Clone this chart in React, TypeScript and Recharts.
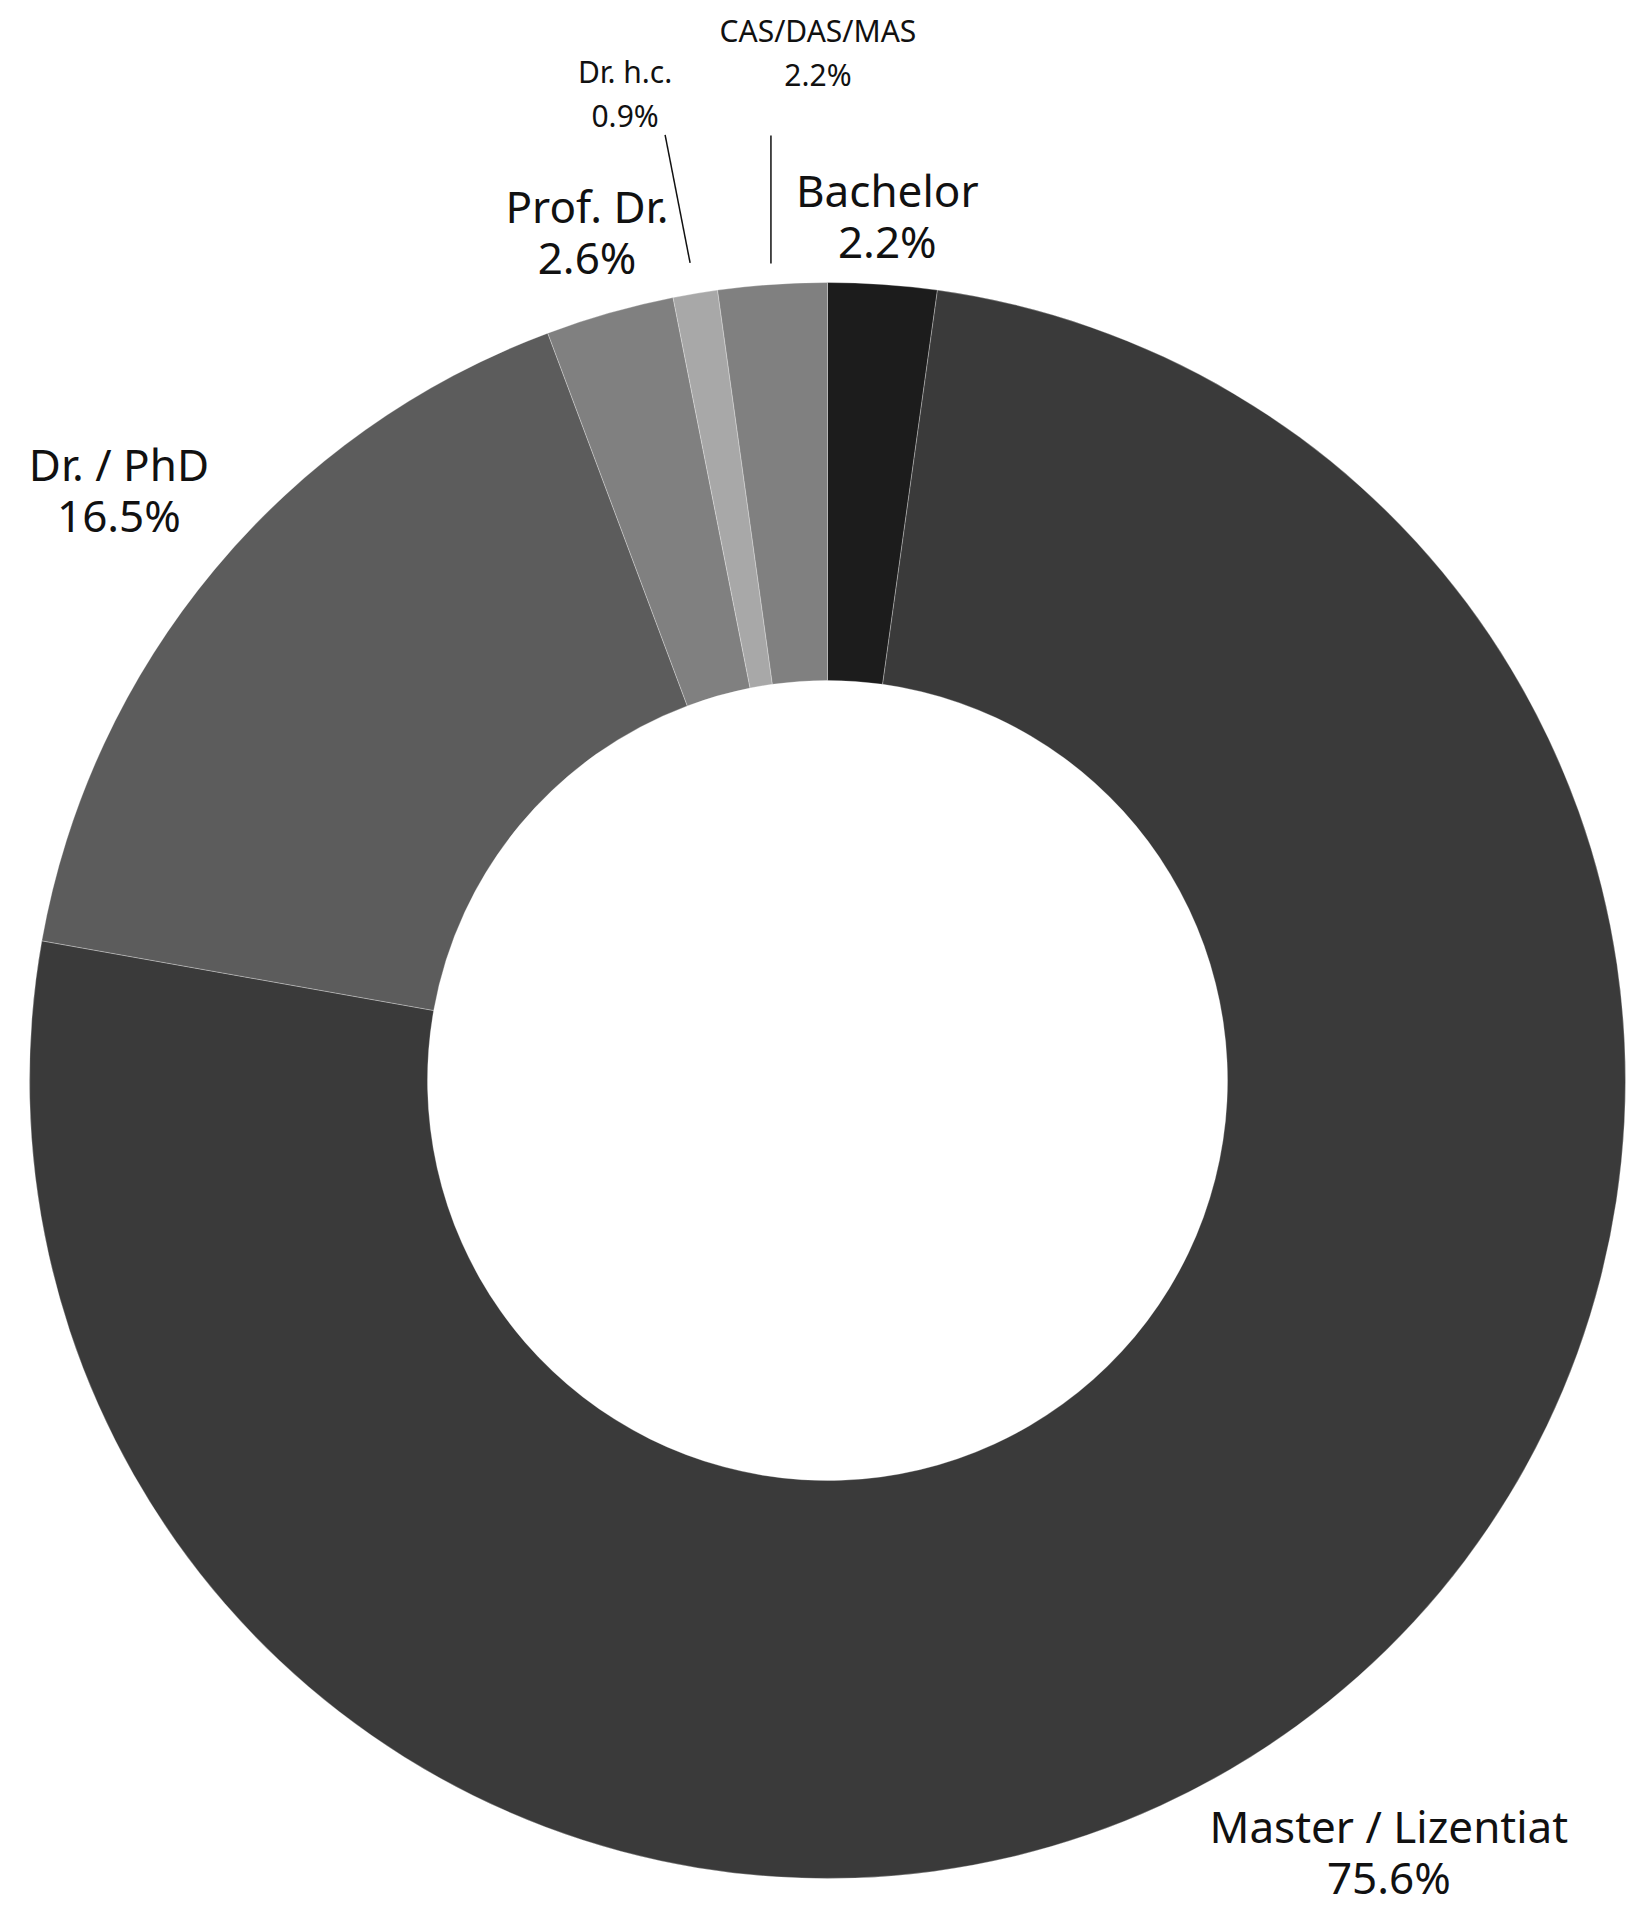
import React from "react";
import { PieChart, Pie, Cell } from "recharts";

const categories = ["Bachelor", "Master / Lizentiat", "Dr. / PhD", "Prof. Dr.", "Dr. h.c.", "CAS/DAS/MAS"];
const shares = [2.2, 75.6, 16.5, 2.6, 0.9, 2.2];
const colors = ["#1c1c1c", "#3a3a3a", "#5c5c5c", "#808080", "#a8a8a8", "#808080"];

const data = categories.map((name, i) => ({ name, value: shares[i] }));

// label layout (positions only, not data)
type Layout =
  | { kind: "big"; r: number }
  | { kind: "small"; r: number; ldx: number; ldy: number; tdx: number; tdy: number };
const labelLayout: Layout[] = [
  { kind: "big", r: 866 },
  { kind: "big", r: 955 },
  { kind: "big", r: 922 },
  { kind: "big", r: 881 },
  { kind: "small", r: 829, ldx: -25, ldy: -128, tdx: -40, tdy: -52 },
  { kind: "small", r: 819, ldx: 0, ldy: -128, tdx: 47, tdy: -93 },
];

const FONT = "'Noto Sans', sans-serif";
const RAD = Math.PI / 180;

const renderLabel = (props: any) => {
  const { cx, cy, midAngle, index, name, value } = props;
  const lay = labelLayout[index];
  const px = cx + lay.r * Math.cos(-midAngle * RAD);
  const py = cy + lay.r * Math.sin(-midAngle * RAD);
  const pct = `${Number(value).toFixed(1)}%`;
  if (lay.kind === "big") {
    const fs = 44;
    const sp = 51;
    const cap = fs * 0.714;
    const b1 = py - (sp - cap) / 2;
    return (
      <g key={`lbl-${index}`}>
        <text x={px} y={b1} textAnchor="middle" fontFamily={FONT} fontSize={fs} fill="#111">
          <tspan x={px} y={b1}>{name}</tspan>
          <tspan x={px} y={b1 + sp}>{pct}</tspan>
        </text>
      </g>
    );
  }
  const ex = px + lay.ldx;
  const ey = py + lay.ldy;
  const tx = ex + lay.tdx;
  const ty = ey + lay.tdy;
  return (
    <g key={`lbl-${index}`}>
      <line x1={px} y1={py} x2={ex} y2={ey} stroke="#111" strokeWidth={1.5} />
      <text x={tx} y={ty} textAnchor="middle" fontFamily={FONT} fontSize={30} fill="#111">
        <tspan x={tx} y={ty}>{name}</tspan>
        <tspan x={tx} y={ty + 44}>{pct}</tspan>
      </text>
    </g>
  );
};

export default function App() {
  return (
    <div style={{ position: "absolute", left: 0, top: 0, width: 1638, height: 1906, background: "#fff" }}>
      <PieChart width={1638} height={1906} margin={{ top: 0, right: 0, bottom: 0, left: 0 }}>
        <Pie
          data={data}
          dataKey="value"
          nameKey="name"
          cx={827.5}
          cy={1080.5}
          innerRadius={400}
          outerRadius={798}
          startAngle={90}
          endAngle={-270}
          stroke="#ffffff"
          strokeWidth={0.3}
          label={renderLabel}
          labelLine={false}
          isAnimationActive={false}
        >
          {data.map((d, i) => (
            <Cell key={d.name} fill={colors[i]} />
          ))}
        </Pie>
      </PieChart>
    </div>
  );
}
